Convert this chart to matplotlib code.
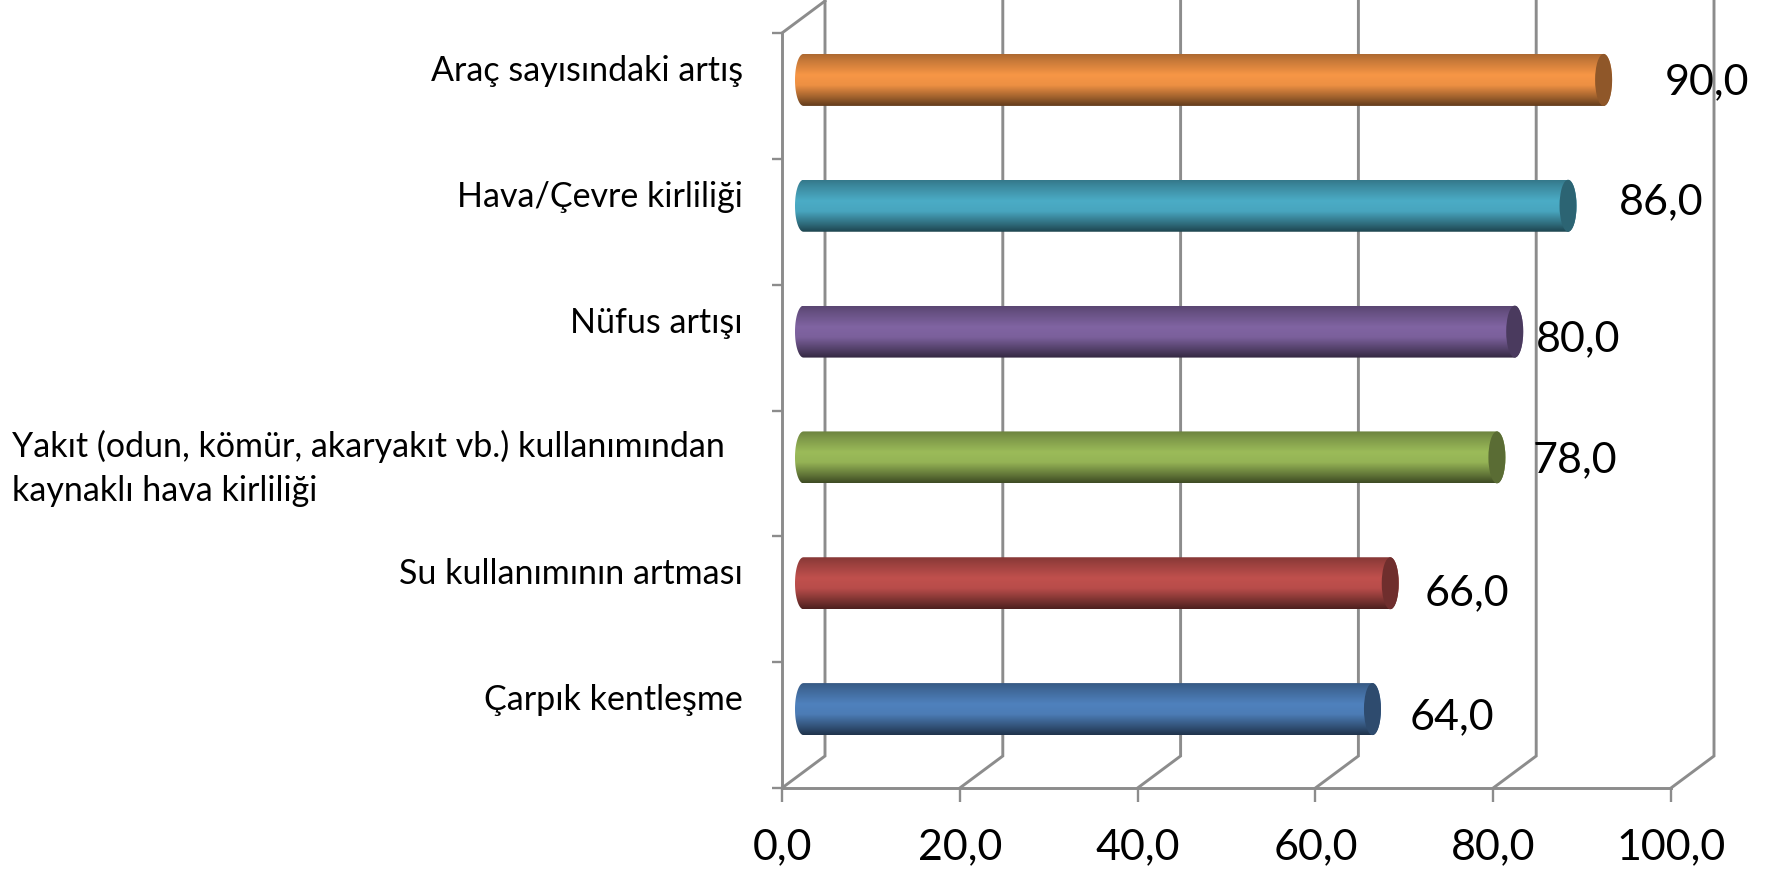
import numpy as np
import matplotlib
matplotlib.use('Agg')
import matplotlib.pyplot as plt
from matplotlib.patches import Ellipse, PathPatch
from matplotlib.path import Path

plt.rcParams['font.family'] = ['Lato', 'DejaVu Sans']

categories = ['Çarpık kentleşme', 'Su kullanımının artması',
              'Yakıt (odun, kömür, akaryakıt vb.) kullanımından \nkaynaklı hava kirliliği',
              'Nüfus artışı', 'Hava/Çevre kirliliği', 'Araç sayısındaki artış']
values = [64.0, 66.0, 78.0, 80.0, 86.0, 90.0]
colors = ['#4F81BD', '#C0504D', '#9BBB59', '#8064A2', '#4BACC6', '#F79646']
xticks = [0, 20, 40, 60, 80, 100]
xtick_labels = ['0,0', '20,0', '40,0', '60,0', '80,0', '100,0']

# label nudges in pixels, they are not regular in the original
value_dx = [79, 77, 78, 63, 93, 103]
value_dy = [8, 10, 3, 8, -4, 2]

W, H = 1777, 873
LEFT, RIGHT, TOP, BOTTOM = 782, 1671, 33, 788
GRAY = '#8C8C8C'

fig = plt.figure(figsize=(W / 100, H / 100), dpi=100)
ax = fig.add_axes([LEFT / W, 1 - BOTTOM / H, (RIGHT - LEFT) / W, (BOTTOM - TOP) / H])

px_x = 100 / (RIGHT - LEFT)
px_y = 6 / (BOTTOM - TOP)
depth_x = 43 * px_x
depth_y = 32 * px_y
bar_h = 52 * px_y
cap_w = 8.5 * px_x

# back wall and floor lines
for v in xticks:
    ax.plot([v, v + depth_x, v + depth_x], [0, depth_y, 6 + depth_y], color=GRAY, lw=2.1,
            clip_on=False, zorder=1, solid_joinstyle='miter')
ax.plot([0, depth_x], [6, 6 + depth_y], color=GRAY, lw=2.1, clip_on=False, zorder=1)

# gradient top -> bottom of the cylinder
t = np.linspace(0, 1, 120)
shade = np.interp(t, [0, 0.12, 0.4, 0.6, 0.85, 1], [0.70, 0.80, 1.0, 0.96, 0.62, 0.40])

for i, (val, col) in enumerate(zip(values, colors)):
    yc = i + 0.5 + depth_y / 2
    x0 = depth_x / 2
    x1 = val + depth_x / 2
    rgb = np.array(matplotlib.colors.to_rgb(col))
    grad = (shade[:, None] * rgb)[:, None, :]
    a = np.linspace(np.pi / 2, 3 * np.pi / 2, 40)
    b = np.linspace(-np.pi / 2, np.pi / 2, 40)
    px = np.r_[x0 + cap_w * np.cos(a), x1 + cap_w * np.cos(b)]
    py = np.r_[yc + bar_h / 2 * np.sin(a), yc + bar_h / 2 * np.sin(b)]
    body = PathPatch(Path(np.c_[px, py]), transform=ax.transData, fc='none', ec='none')
    ax.add_patch(body)
    im = ax.imshow(grad, extent=(x0 - cap_w, x1 + cap_w, yc - bar_h / 2, yc + bar_h / 2),
                   aspect='auto', origin='upper', zorder=2, clip_on=True)
    im.set_clip_path(body)
    ax.add_patch(Ellipse((x1, yc), 2 * cap_w, bar_h, fc=rgb * 0.58, ec='none', zorder=3))
    ax.text(val + depth_x / 2 + value_dx[i] * px_x, yc - value_dy[i] * px_y,
            ('%.1f' % val).replace('.', ','), ha='center', va='center', fontsize=31,
            color='black', zorder=5)
    if '\n' in categories[i]:
        ax.text((12 - LEFT) * px_x, i + 0.5 + 5 * px_y, categories[i], ha='left', va='center',
                fontsize=24.5, linespacing=1.45, color='black', zorder=5)
    else:
        ax.text((743 - LEFT) * px_x, i + 0.5 + 25 * px_y, categories[i], ha='right', va='center',
                fontsize=24.5, color='black', zorder=5)

ax.set_xlim(0, 100)
ax.set_ylim(0, 6)
ax.set_xticks(xticks)
ax.set_xticklabels(xtick_labels, fontsize=31)
ax.set_yticks(range(7))
ax.set_yticklabels([])
ax.tick_params(axis='x', length=10, width=1.7, color=GRAY, pad=19)
ax.tick_params(axis='y', length=7, width=1.7, color=GRAY)
for s in ['top', 'right']:
    ax.spines[s].set_visible(False)
for s in ['left', 'bottom']:
    ax.spines[s].set_color(GRAY)
    ax.spines[s].set_linewidth(2.1)
ax.patch.set_alpha(0)

fig.savefig('out.png', dpi=100)
